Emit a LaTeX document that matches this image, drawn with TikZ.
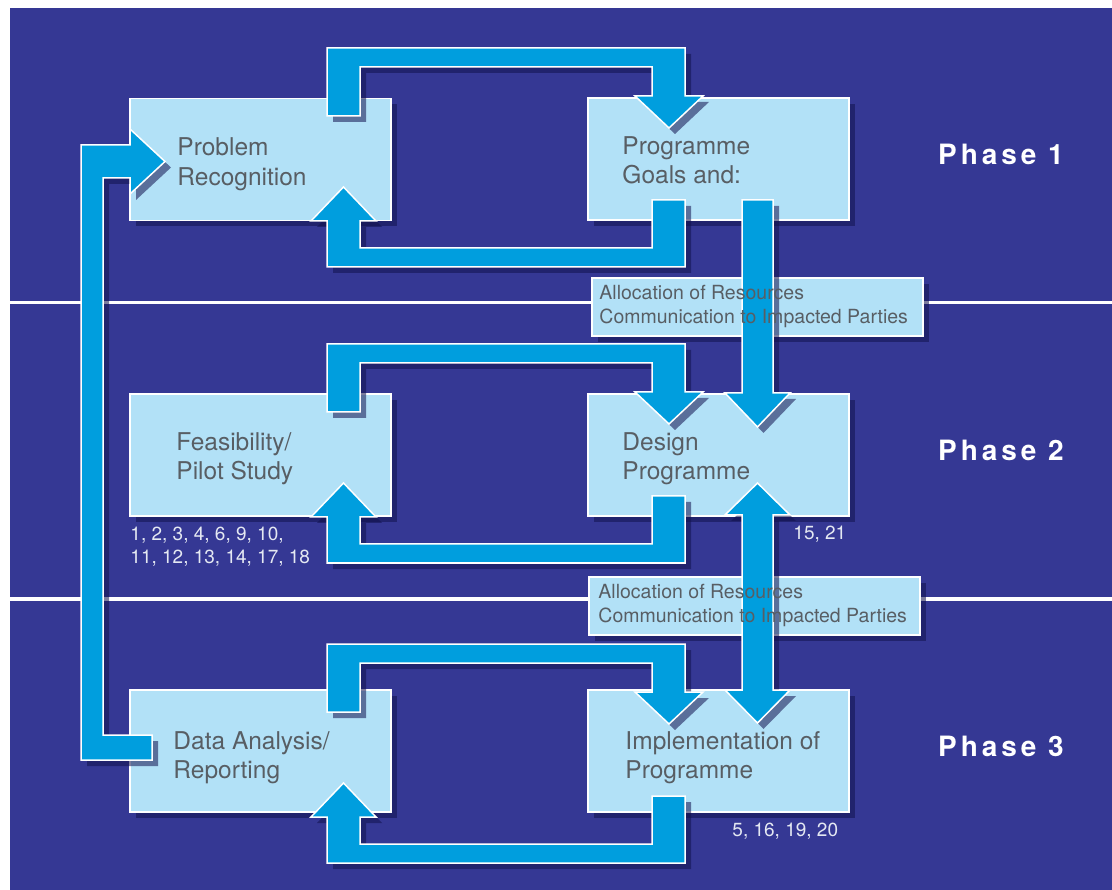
\documentclass[tikz,border=0pt]{standalone}
\usepackage{fontspec}
\setmainfont{TeX Gyre Heros}
\newfontfamily\phasefont[LetterSpace=14]{TeX Gyre Heros}
\usepackage{tikz}
\usetikzlibrary{calc, shadows}
\definecolor{night}{RGB}{53, 56, 148}
\definecolor{sky}{RGB}{0, 158, 222}
\definecolor{pale}{RGB}{178, 225, 247}
\definecolor{ink}{RGB}{88, 94, 100}
\definecolor{shade}{RGB}{18, 18, 78}
\definecolor{numtext}{RGB}{228, 232, 242}

\begin{document}
\begin{tikzpicture}[x=1pt, y=-1pt,
  stage/.style={draw=white, line width=1.5, fill=pale, inner sep=0,
    minimum width=261, minimum height=122,
    drop shadow={shadow xshift=6pt, shadow yshift=-6pt, fill=shade, opacity=0.55}},
  allocbox/.style={stage, minimum width=331, minimum height=58},
  blockarrow/.style={draw=white, line width=1.5, fill=sky, line join=miter,
    drop shadow={shadow xshift=6pt, shadow yshift=-6pt, fill=shade, opacity=0.55}},
  boxtext/.style={anchor=north west, align=left, inner sep=0, text=ink,
    font=\fontsize{24.5}{29.5}\selectfont},
  alloctext/.style={anchor=north west, align=left, inner sep=0, text=ink,
    font=\fontsize{19.5}{24}\selectfont},
  numbers/.style={anchor=north west, align=left, inner sep=0, text=numtext,
    font=\fontsize{19}{23}\selectfont},
  phaselabel/.style={anchor=base west, inner sep=0, text=white,
    font=\fontsize{28}{32}\phasefont\bfseries}]

  \useasboundingbox (0, 0) rectangle (1112, 890);
  \fill[night] (10, 8) rectangle (1112, 890);

  % phase separators
  \draw[white, line width=3.5] (10, 302.5) -- (1112, 302.5);
  \draw[white, line width=3.5] (10, 599) -- (1112, 599);

  % the six stages
  \node[stage] (prob)   at (260.5, 159.5) {};
  \node[stage] (goals)  at (718.5, 159) {};
  \node[stage] (feas)   at (260.5, 455) {};
  \node[stage] (design) at (718.5, 455) {};
  \node[stage] (data)   at (260.5, 751) {};
  \node[stage] (impl)   at (718.5, 751) {};

  % loops inside each phase
  \foreach \dy in {0, 296, 596} {
    \begin{scope}[shift={(0, \dy)}]
      \draw[blockarrow] (327, 116) -- (327, 48) -- (685, 48) -- (685, 96)
        -- (703, 96) -- (669, 128) -- (635, 96) -- (652, 96) -- (652, 67)
        -- (360, 67) -- (360, 116) -- cycle;
      \draw[blockarrow] (685, 200) -- (685, 267) -- (327, 267) -- (327, 221)
        -- (311, 221) -- (343.5, 187) -- (376, 221) -- (360, 221) -- (360, 248)
        -- (652, 248) -- (652, 200) -- cycle;
    \end{scope}
  }

  % feedback from reporting to problem recognition
  \draw[blockarrow] (152, 760) -- (81, 760) -- (81, 145) -- (130, 145)
    -- (130, 129) -- (165, 161.5) -- (130, 194) -- (130, 178) -- (103, 178)
    -- (103, 735) -- (152, 735) -- cycle;

  \node[allocbox] (alloca) at (757.5, 307) {};
  \node[allocbox] (allocb) at (754.5, 606) {};

  % between the phases
  \draw[blockarrow] (742, 200) -- (773, 200) -- (773, 393) -- (790, 393)
    -- (757.5, 427) -- (725, 393) -- (742, 393) -- cycle;
  \draw[blockarrow] (757.5, 483) -- (790, 515) -- (773, 515) -- (773, 690)
    -- (790, 690) -- (757.5, 723) -- (725, 690) -- (742, 690) -- (742, 515)
    -- (725, 515) -- cycle;

  % texts
  \node[boxtext] (probtext)   at ($(prob.north west)+(48, 40)$) {Problem\\Recognition};
  \node[boxtext] (goalstext)  at ($(goals.north west)+(35, 39)$) {Programme\\Goals and:};
  \node[boxtext] (feastext)   at ($(feas.north west)+(47, 39)$) {Feasibility/\\Pilot Study};
  \node[boxtext] (designtext) at ($(design.north west)+(35, 39)$) {Design\\Programme};
  \node[boxtext] (datatext)   at ($(data.north west)+(44, 42)$) {Data Analysis/\\Reporting};
  \node[boxtext] (impltext)   at ($(impl.north west)+(38, 42)$) {Implementation of\\Programme};

  \node[alloctext] (allocatext) at ($(alloca.north west)+(8, 7.5)$)
    {Allocation of Resources\\Communication to Impacted Parties};
  \node[alloctext] (allocbtext) at ($(allocb.north west)+(10, 7.5)$)
    {Allocation of Resources\\Communication to Impacted Parties};

  \node[numbers] (feasnum) at ($(feas.south west)+(1, 10.5)$)
    {1, 2, 3, 4, 6, 9, 10,\\11, 12, 13, 14, 17, 18};
  \node[numbers] (designnum) at ($(design.south west)+(206, 9.5)$) {15, 21};
  \node[numbers] (implnum) at ($(impl.south west)+(145, 10.5)$) {5, 16, 19, 20};

  \node[phaselabel] (phasea) at (938, 165) {Phase 1};
  \node[phaselabel] (phaseb) at (938, 461) {Phase 2};
  \node[phaselabel] (phasec) at (938, 756) {Phase 3};

\end{tikzpicture}
\end{document}
